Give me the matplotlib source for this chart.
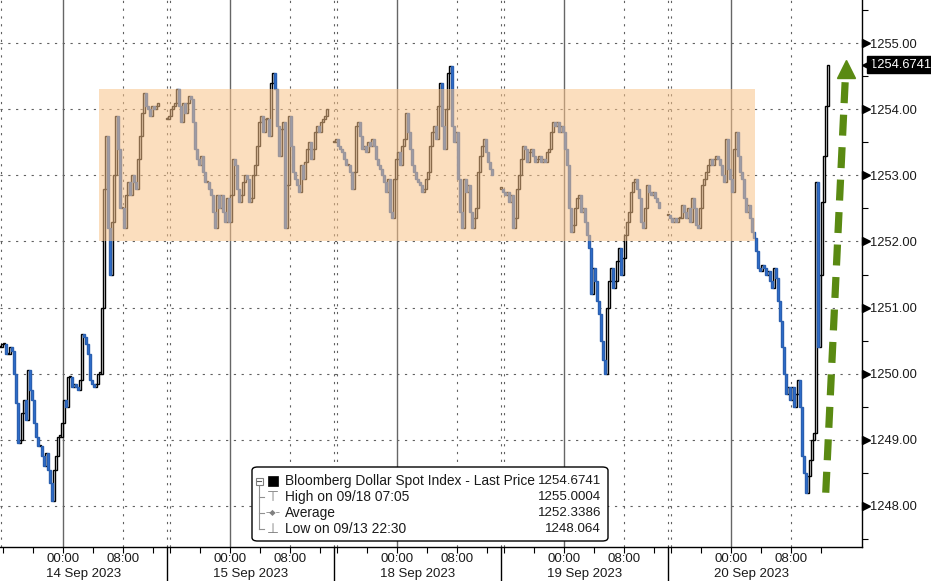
import numpy as np
import matplotlib
matplotlib.use("Agg")
import matplotlib.pyplot as plt
import matplotlib.transforms as mtransforms
from matplotlib.patches import FancyBboxPatch, Rectangle

plt.rcParams['font.family'] = ['Liberation Sans', 'DejaVu Sans']

# ---------------- data (closes, one list per trading session) ----------------
session_dates = ["14 Sep 2023", "15 Sep 2023", "18 Sep 2023", "19 Sep 2023", "20 Sep 2023"]

s14 = [1250.4, 1250.45, 1250.45, 1250.3, 1250.3, 1250.4, 1250.35, 1250.0, 1249.55, 1248.95,
       1249.0, 1249.4, 1249.6, 1249.3, 1250.05, 1249.75, 1249.6, 1249.25, 1249.05, 1248.9,
       1248.9, 1248.75, 1248.6, 1248.8, 1248.55, 1248.35, 1248.07, 1248.55, 1248.75, 1249.05,
       1249.05, 1249.25, 1249.6, 1249.5, 1249.95, 1249.95, 1249.8, 1249.85, 1249.8, 1249.75,
       1249.9, 1250.6, 1250.55, 1250.45, 1250.3, 1249.9, 1249.85, 1249.8, 1249.85, 1250.0,
       1250.0, 1251.0, 1252.8, 1253.6, 1252.2, 1251.5, 1252.3, 1253.0, 1253.9, 1253.4,
       1252.5, 1252.5, 1252.2, 1252.7, 1252.9, 1252.7, 1253.0, 1252.9, 1252.8, 1253.25,
       1253.6, 1253.95, 1254.25, 1254.05, 1254.0, 1253.9, 1254.05, 1254.0, 1254.05, 1254.1]

s15 = [1253.85, 1253.9,
       1254.0, 1254.05, 1254.1, 1254.3, 1254.05, 1253.8, 1254.1, 1253.95, 1254.1, 1254.2,
       1254.15, 1253.8, 1253.4, 1253.25, 1253.15, 1253.3, 1253.05, 1252.9, 1252.9, 1252.8,
       1252.7, 1252.45, 1252.2, 1252.7, 1252.5, 1252.7, 1252.45, 1252.3, 1252.65, 1252.3,
       1252.7, 1253.25, 1253.15, 1252.8, 1252.6, 1252.7, 1252.9, 1253.0, 1252.95, 1252.6,
       1252.65, 1253.0, 1253.15, 1253.45, 1253.8, 1253.9, 1253.65, 1253.85, 1253.85, 1253.6,
       1254.4, 1254.55, 1254.3, 1253.75, 1253.3, 1253.7, 1253.8, 1252.2, 1252.85, 1253.9,
       1253.45, 1253.05, 1252.95, 1252.85, 1252.75, 1253.15, 1252.95, 1253.2, 1253.4, 1253.5,
       1253.25, 1253.4, 1253.65, 1253.75, 1253.65, 1253.8, 1253.85, 1253.9, 1254.0]

s18 = [1253.5, 1253.55, 1253.45,
       1253.4, 1253.35, 1253.25, 1253.15, 1253.15, 1253.05, 1252.8, 1253.05, 1253.75, 1253.8,
       1253.6, 1253.4, 1253.45, 1253.35, 1253.5, 1253.45, 1253.55, 1253.45, 1253.25, 1253.15,
       1253.1, 1253.0, 1252.9, 1252.75, 1252.95, 1252.45, 1252.35, 1252.95, 1253.25, 1253.35,
       1253.15, 1253.45, 1253.55, 1253.95, 1253.65, 1253.4, 1253.15, 1253.05, 1252.95, 1252.9,
       1252.85, 1252.75, 1252.8, 1252.95, 1253.05, 1253.45, 1253.65, 1253.75, 1253.55, 1254.05,
       1254.4, 1253.75, 1253.4, 1254.0, 1254.55, 1254.65, 1253.75, 1253.5, 1253.65, 1252.95,
       1252.45, 1252.2, 1252.95, 1252.75, 1252.85, 1252.45, 1252.2, 1252.35, 1252.5, 1253.05,
       1253.3, 1253.45, 1253.55, 1253.35, 1253.2, 1253.1, 1253.0]

s19 = [1252.8, 1252.75, 1252.7, 1252.75, 1252.6,
       1252.7, 1252.2, 1252.35, 1252.8, 1253.0, 1253.25, 1253.45, 1253.4, 1253.2, 1253.35,
       1253.4, 1253.3, 1253.2, 1253.25, 1253.3, 1253.2, 1253.25, 1253.2, 1253.35, 1253.4,
       1253.65, 1253.8, 1253.75, 1253.8, 1253.65, 1253.75, 1253.65, 1253.4, 1253.15, 1252.5,
       1252.15, 1252.25, 1252.5, 1252.65, 1252.7, 1252.45, 1252.5, 1252.3, 1252.1, 1251.9,
       1251.2, 1251.6, 1251.4, 1251.1, 1250.9, 1250.5, 1250.2, 1250.0, 1251.0, 1251.4,
       1251.6, 1251.3, 1251.4, 1251.7, 1251.9, 1251.5, 1251.75, 1252.1, 1252.3, 1252.45,
       1252.75, 1252.9, 1252.95, 1252.8, 1252.65, 1252.3, 1252.2, 1252.5, 1252.85, 1252.75,
       1252.7, 1252.75, 1252.65, 1252.6, 1252.5]

s20 = [1252.4, 1252.35, 1252.3, 1252.35, 1252.3, 1252.35,
       1252.35, 1252.55, 1252.45, 1252.35, 1252.5, 1252.3, 1252.65, 1252.5, 1252.25, 1252.2,
       1252.5, 1252.85, 1252.95, 1253.05, 1253.15, 1253.25, 1253.15, 1253.25, 1253.3, 1253.25,
       1253.15, 1253.0, 1252.9, 1253.55, 1253.1, 1252.95, 1252.75, 1253.4, 1253.65, 1253.3,
       1253.05, 1252.95, 1252.65, 1252.45, 1252.55, 1252.35, 1252.15, 1252.05, 1251.85, 1251.6,
       1251.55, 1251.65, 1251.6, 1251.5, 1251.55, 1251.4, 1251.3, 1251.6, 1251.45, 1251.1,
       1250.8, 1250.4, 1250.0, 1249.7, 1249.8, 1249.6, 1249.8, 1249.5, 1249.7, 1249.9,
       1249.5, 1248.75, 1248.5, 1248.2, 1248.45, 1248.7, 1249.0, 1249.1,
       1252.9, 1250.4, 1251.5, 1252.6, 1253.3, 1254.05, 1254.6741]

sessions = [s14, s15, s18, s19, s20]

legend_name = "Bloomberg Dollar Spot Index - Last Price"
legend_rows = [("High on 09/18 07:05", "1255.0004"),
               ("Average", "1252.3386"),
               ("Low on 09/13 22:30", "1248.064")]
last_price_label = "1254.6741"

y_ticks = [1248, 1249, 1250, 1251, 1252, 1253, 1254, 1255]
range_band = (1252.0, 1254.3)

# ---------------- layout constants (compressed trading-time hours) ----------------
SESSION_H = 167 / 7.5          # length of one session slot on the axis
BAR_H = 2 / 7.5                # 16-minute bars
MIDNIGHT = 8.4                 # 00:00 offset inside each session slot
X_MAX = 862 / 7.5
Y_LIM = (1247.379, 1255.652)

W, H = 931, 581
fig = plt.figure(figsize=(W / 100, H / 100), dpi=100)
ax = fig.add_axes([0, 1 - 547 / H, 862 / W, 547 / H])
ax.set_xlim(0, X_MAX)
ax.set_ylim(*Y_LIM)

# ---------------- grid ----------------
dot = (0, (2, 5))
for y in y_ticks:
    ax.axhline(y, color='#606060', lw=0.8, ls=dot, zorder=1)
for k in range(len(sessions)):
    s0 = k * SESSION_H
    ax.axvline(s0 + MIDNIGHT, color='#666666', lw=1.0, zorder=1)
    ax.axvline(s0 + MIDNIGHT + 8, color='#606060', lw=0.8, ls=dot, zorder=1)
    if k > 0:
        ax.axvline(s0 - 0.05, color='#606060', lw=0.8, ls=dot, zorder=1)
        ax.axvline(s0 + 0.45, color='#606060', lw=0.8, ls=dot, zorder=1)
ax.axvline(0.1, color='#606060', lw=0.8, ls=dot, zorder=1)

# ---------------- candles ----------------
for k, closes in enumerate(sessions):
    c = np.array(closes)
    o = np.r_[c[0], c[:-1]]
    x = k * SESSION_H + np.arange(len(c)) * BAR_H
    up = c >= o
    bottom = np.minimum(o, c)
    height = np.maximum(np.abs(c - o), 0.02)
    ax.bar(x[up], height[up], bottom=bottom[up], width=BAR_H * 0.9,
           facecolor='white', edgecolor='black', linewidth=1.0, zorder=3)
    ax.bar(x[~up], height[~up], bottom=bottom[~up], width=BAR_H * 0.9,
           facecolor='#2f74d6', edgecolor='#2a5fb0', linewidth=1.0, zorder=3)

# ---------------- highlighted range band ----------------
band_x0, band_x1 = 99 / 7.5, 755 / 7.5
ax.add_patch(Rectangle((band_x0, range_band[0]), band_x1 - band_x0,
                       range_band[1] - range_band[0],
                       facecolor='#f9c389', alpha=0.55, edgecolor='none', zorder=4))

# ---------------- green dashed arrow ----------------
green = '#5a8a12'
ax.plot([110.1, 112.7], [1248.2, 1254.45], color=green, lw=5.2,
        ls=(0, (2.9, 1.6)), dash_capstyle='butt', zorder=6, clip_on=False)
head_tr = ax.transData + mtransforms.ScaledTranslation(0, -9 / 100, fig.dpi_scale_trans)
ax.plot([112.8], [1254.74], marker='^', ms=13, color=green, mec=green,
        transform=head_tr, zorder=7, clip_on=False)

# ---------------- spines / axes ----------------
for side in ['top', 'left']:
    ax.spines[side].set_visible(False)
ax.spines['right'].set_color('black')
ax.spines['bottom'].set_color('black')
ax.spines['right'].set_linewidth(1.0)
ax.spines['bottom'].set_linewidth(1.0)

ax.yaxis.tick_right()
ax.set_yticks(y_ticks)
ax.set_yticklabels([f"{v:.2f}" for v in y_ticks])
ax.yaxis.set_minor_locator(matplotlib.ticker.FixedLocator(np.r_[np.array(y_ticks) - 0.5, 1255.5]))
ax.tick_params(axis='y', which='major', length=0, pad=5.5, labelsize=9.3, labelcolor='#1a1a1a')
ax.tick_params(axis='y', which='minor', length=4, width=0.8, direction='out', color='black')

tri_tr = mtransforms.blended_transform_factory(ax.transAxes, ax.transData) + \
    mtransforms.ScaledTranslation(3.5 / 100, 0, fig.dpi_scale_trans)
ax.plot(np.ones(len(y_ticks)), y_ticks, ls='none', marker='>', ms=5.5, color='black',
        transform=tri_tr, clip_on=False, zorder=8)

# x ticks
major_x, major_lbl, minor_x = [], [], []
for k in range(len(sessions)):
    s0 = k * SESSION_H
    major_x += [s0 + MIDNIGHT, s0 + MIDNIGHT + 8]
    major_lbl += ["00:00", "08:00"]
    minor_x += [s0 + MIDNIGHT - 8, s0 + MIDNIGHT - 4, s0 + MIDNIGHT + 4, s0 + MIDNIGHT + 12]
ax.set_xticks(major_x)
ax.set_xticklabels(major_lbl)
ax.set_xticks(minor_x, minor=True)
ax.tick_params(axis='x', which='both', length=4, width=0.8, direction='out', color='black')
ax.tick_params(axis='x', which='major', pad=0.5, labelsize=9.5, labelcolor='#1a1a1a')

bl = mtransforms.blended_transform_factory(ax.transData, ax.transAxes)
for k, d in enumerate(session_dates):
    s0 = k * SESSION_H
    ax.annotate(d, xy=(s0 + MIDNIGHT, 0), xycoords=bl, xytext=(-17, -27),
                textcoords='offset pixels', ha='left', va='center', fontsize=9.5,
                color='#1a1a1a', annotation_clip=False)
    if k > 0:
        ax.plot([s0, s0], [0, -34 / 547], color='black', lw=1.0, transform=bl, clip_on=False)

# ---------------- last price tag ----------------
last = sessions[-1][-1]
tag_tr = mtransforms.blended_transform_factory(ax.transAxes, ax.transData)
ax.annotate(last_price_label, xy=(1, last), xycoords=tag_tr, xytext=(8, 0),
            textcoords='offset pixels', ha='left', va='center', fontsize=9.3, color='white',
            bbox=dict(boxstyle='square,pad=0.22', fc='black', ec='black'),
            annotation_clip=False, zorder=9)
ax.plot([1], [last], marker='<', ms=7, color='black',
        transform=tag_tr + mtransforms.ScaledTranslation(5 / 100, 0, fig.dpi_scale_trans),
        clip_on=False, zorder=9)

# ---------------- legend box ----------------
def fx(px):
    return px / W


def fy(py):
    return 1 - py / H


box = FancyBboxPatch((fx(252), fy(541)), fx(608) - fx(252), fy(467) - fy(541),
                     boxstyle='round,pad=0,rounding_size=0.006', transform=fig.transFigure,
                     fc='white', ec='black', lw=1.0, zorder=20)
fig.add_artist(box)
rows_y = [481, 497, 513, 529]
fig.add_artist(plt.Line2D([fx(259), fx(259)], [fy(486), fy(529)], color='#909090', lw=0.8,
                          transform=fig.transFigure, zorder=21))
for ry in rows_y[1:]:
    fig.add_artist(plt.Line2D([fx(259), fx(264)], [fy(ry), fy(ry)], color='#909090', lw=0.8,
                              transform=fig.transFigure, zorder=21))
fig.add_artist(Rectangle((fx(255.5), fy(484.5)), fx(7), 7 / H, transform=fig.transFigure,
                         fc='white', ec='#808080', lw=0.8, zorder=22))
fig.add_artist(plt.Line2D([fx(257), fx(261)], [fy(481), fy(481)], color='#606060', lw=0.8,
                          transform=fig.transFigure, zorder=23))
fig.add_artist(Rectangle((fx(268), fy(486)), fx(10), 10 / H, transform=fig.transFigure,
                         fc='black', ec='black', lw=0.5, zorder=22))
icons = ["\u22a4", "\u2013\u25c6\u2013", "\u22a5"]
icon_sizes = [10, 6, 10]
LFS = 9.9
VFS = 9.0
fig.text(fx(285), fy(rows_y[0]), legend_name, ha='left', va='center', fontsize=LFS,
         color='#1a1a1a', zorder=23)
fig.text(fx(601), fy(rows_y[0]), last_price_label, ha='right', va='center', fontsize=VFS + 0.6,
         color='#1a1a1a', zorder=23)
for (lbl, val), ry, ic, isz in zip(legend_rows, rows_y[1:], icons, icon_sizes):
    fig.text(fx(273), fy(ry), ic, ha='center', va='center', fontsize=isz, color='#808080',
             family=['DejaVu Sans'], zorder=23)
    fig.text(fx(285), fy(ry), lbl, ha='left', va='center', fontsize=LFS, color='#1a1a1a', zorder=23)
    fig.text(fx(601), fy(ry), val, ha='right', va='center', fontsize=VFS + 0.6, color='#1a1a1a', zorder=23)

fig.savefig('out.png', dpi=100, facecolor='white')
